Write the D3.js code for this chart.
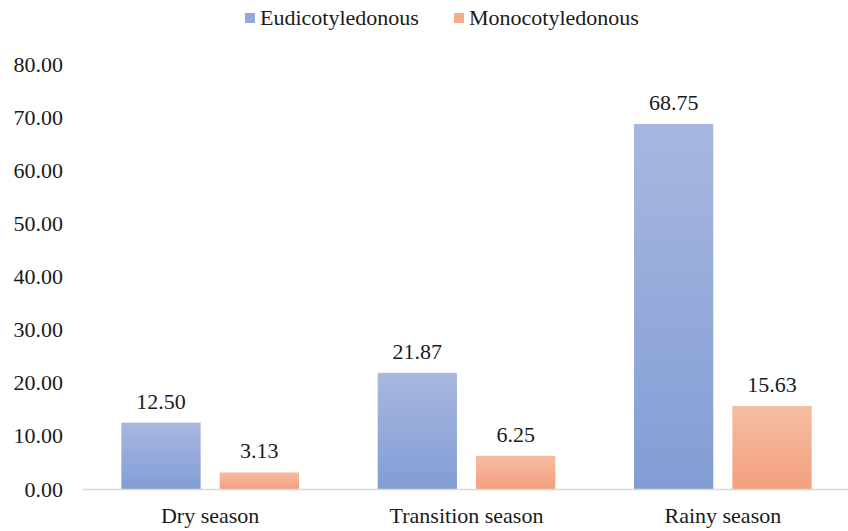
<!DOCTYPE html>
<html>
<head>
<meta charset="utf-8">
<script src="https://cdn.jsdelivr.net/npm/d3@7"></script>
<style>
  html, body { margin: 0; padding: 0; background: #fff; }
  svg { display: block; }
</style>
</head>
<body>
<svg id="chart" width="848" height="531"></svg>
<script>
// Seasons on the x axis
const seasons = ["Dry season", "Transition season", "Rainy season"];
// Series names and values (%)
const seriesNames = ["Eudicotyledonous", "Monocotyledonous"];
const eudicotValues = [12.50, 21.87, 68.75];
const monocotValues = [3.13, 6.25, 15.63];
// Y axis ticks
const yTicks = [0, 10, 20, 30, 40, 50, 60, 70, 80];

const FONT = '"Liberation Serif", "Times New Roman", serif';
const TEXT_COLOR = "#1a1a1a";

const svg = d3.select("#chart");
const plotLeft = 82, plotRight = 851;
const plotBottom = 489;

const x0 = d3.scaleBand()
  .domain(seasons)
  .range([plotLeft, plotRight])
  .paddingInner(0)
  .paddingOuter(0);

const x1 = d3.scaleBand()
  .domain(seriesNames)
  .range([0, x0.bandwidth()])
  .paddingInner(0.194)
  .paddingOuter(0.4);

const y = d3.scaleLinear().domain([0, 80]).range([plotBottom, plotBottom - 80 * 5.31]);

// Gradients: lighter at top, deeper at bottom of each bar
const defs = svg.append("defs");
const gradStops = {
  Eudicotyledonous: ["#a8b7df", "#829dd5"],
  Monocotyledonous: ["#f6bda2", "#f3a07d"]
};
const gradId = d => "grad-" + d.toLowerCase();
seriesNames.forEach(name => {
  const g = defs.append("linearGradient")
    .attr("id", gradId(name))
    .attr("x1", 0).attr("y1", 0).attr("x2", 0).attr("y2", 1);
  g.append("stop").attr("offset", "0%").attr("stop-color", gradStops[name][0]);
  g.append("stop").attr("offset", "100%").attr("stop-color", gradStops[name][1]);
});
const legendColor = { Eudicotyledonous: "#93a8da", Monocotyledonous: "#f4ac8d" };

// Y axis labels (no line, no ticks)
const yAxis = d3.axisLeft(y)
  .tickValues(yTicks)
  .tickFormat(d3.format(".2f"))
  .tickSize(0)
  .tickPadding(0);
const yG = svg.append("g")
  .attr("transform", `translate(63,0)`)
  .call(yAxis)
  .attr("font-family", FONT)
  .attr("font-size", 22);
yG.select(".domain").remove();
yG.selectAll("text")
  .attr("font-family", FONT)
  .attr("font-size", 22)
  .attr("fill", TEXT_COLOR);

// Bars
const data = seasons.map((s, i) => ({
  season: s,
  values: [
    { name: seriesNames[0], value: eudicotValues[i] },
    { name: seriesNames[1], value: monocotValues[i] }
  ]
}));

const groups = svg.append("g").selectAll("g")
  .data(data)
  .join("g")
  .attr("transform", d => `translate(${x0(d.season)},0)`);

groups.selectAll("rect")
  .data(d => d.values)
  .join("rect")
  .attr("x", d => x1(d.name))
  .attr("width", x1.bandwidth())
  .attr("y", d => y(d.value))
  .attr("height", d => y(0) - y(d.value))
  .attr("fill", d => `url(#${gradId(d.name)})`);

groups.selectAll("text.val")
  .data(d => d.values)
  .join("text")
  .attr("class", "val")
  .attr("x", d => x1(d.name) + x1.bandwidth() / 2)
  .attr("y", d => y(d.value) - 14)
  .attr("text-anchor", "middle")
  .attr("font-family", FONT)
  .attr("font-size", 22)
  .attr("fill", TEXT_COLOR)
  .text(d => d.value.toFixed(2));

// X axis baseline and category labels
const xAxis = d3.axisBottom(x0).tickSize(0).tickPadding(18);
const xG = svg.append("g")
  .attr("transform", `translate(0,${plotBottom})`)
  .call(xAxis)
  .attr("font-family", FONT)
  .attr("font-size", 22);
xG.select(".domain").attr("stroke", "#d9d9d9").attr("stroke-width", 1.5);
xG.selectAll("text")
  .attr("font-family", FONT)
  .attr("font-size", 22)
  .attr("fill", TEXT_COLOR);

// Legend
const legendItems = [
  { name: seriesNames[0], x: 245 },
  { name: seriesNames[1], x: 454 }
];
const legend = svg.append("g");
legendItems.forEach(it => {
  legend.append("rect")
    .attr("x", it.x).attr("y", 13)
    .attr("width", 10).attr("height", 10)
    .attr("fill", legendColor[it.name]);
  legend.append("text")
    .attr("x", it.x + 15).attr("y", 25)
    .attr("font-family", FONT)
    .attr("font-size", 22)
    .attr("fill", TEXT_COLOR)
    .text(it.name);
});
</script>
</body>
</html>
